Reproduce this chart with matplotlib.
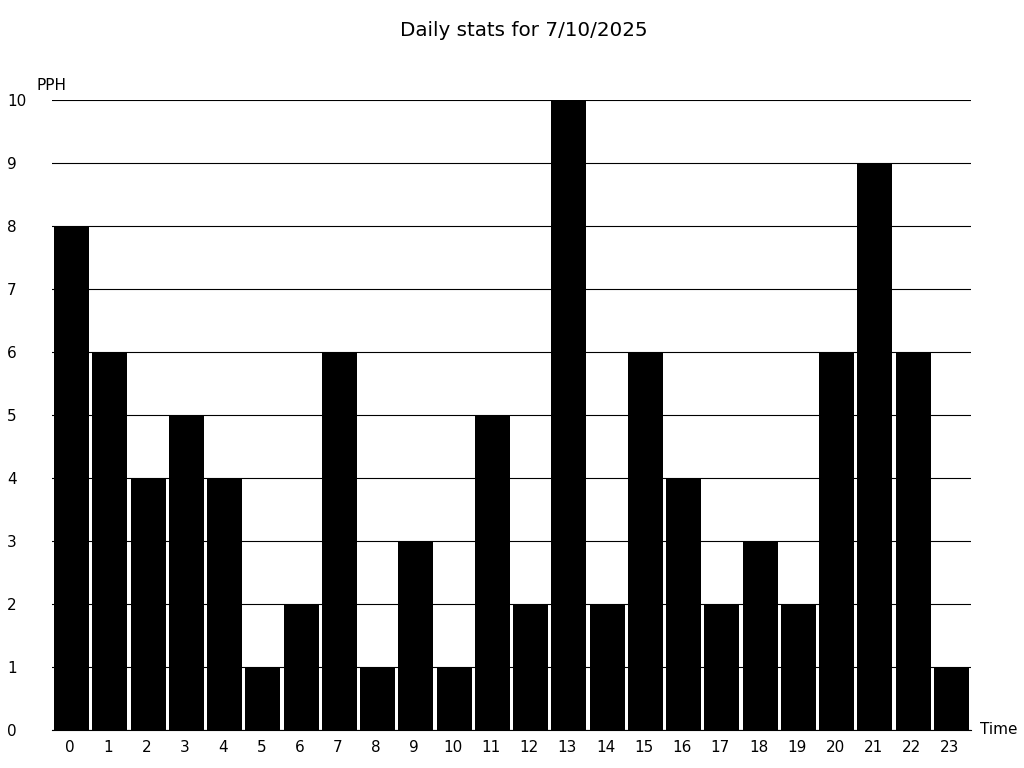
import matplotlib
matplotlib.use("Agg")
import matplotlib.pyplot as plt

hours = list(range(24))
pph = [8, 6, 4, 5, 4, 1, 2, 6, 1, 3, 1, 5, 2, 10, 2, 6, 4, 2, 3, 2, 6, 9, 6, 1]
title = "Daily stats for 7/10/2025"

W, H = 1024, 768
fig = plt.figure(figsize=(W / 100, H / 100), dpi=100)
ax = fig.add_axes([52 / W, (H - 730) / H, 919 / W, 630 / H])

bw = 0.915
ax.bar(hours, pph, width=bw, align="edge", color="black", zorder=3)
ax.set_xlim(-0.052, 23.97)
ax.set_ylim(0, 10)

ax.set_xticks([h + 0.42 for h in hours])
ax.set_xticklabels([str(h) for h in hours])
ax.set_yticks(range(11))
ax.set_yticklabels([str(v) for v in range(11)], ha="left")
ax.tick_params(axis="x", length=0, pad=7, labelsize=11)
ax.tick_params(axis="y", length=0, pad=32.4, labelsize=11)

ax.grid(axis="y", color="black", linewidth=0.8, zorder=0)
for s in ("top", "right", "left"):
    ax.spines[s].set_visible(False)
ax.spines["bottom"].set_linewidth(0.8)

fig.text(37 / W, 1 - 85 / H, "PPH", fontsize=11, ha="left", va="center")
fig.text(980 / W, 1 - 730 / H, "Time", fontsize=11, ha="left", va="center")
fig.text(0.512, 1 - 30 / H, title, fontsize=14.3, ha="center", va="center")

fig.savefig("out.png", dpi=100)
